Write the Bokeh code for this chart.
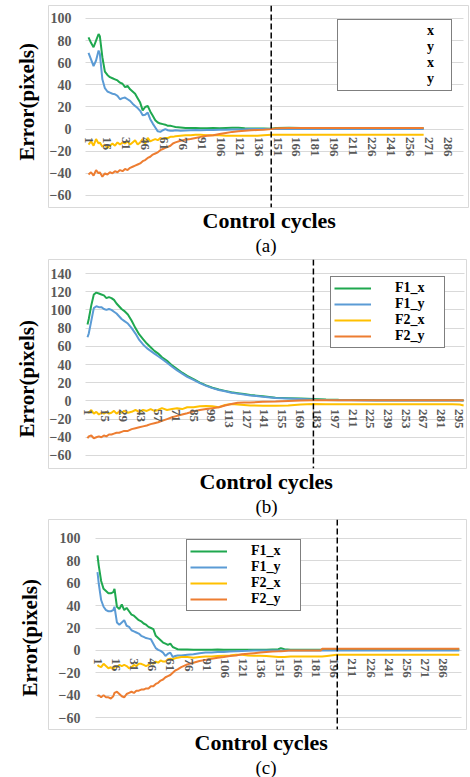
from bokeh.plotting import figure
from bokeh.models import Range1d, FixedTicker, Span, Title, Legend, LegendItem
from bokeh.layouts import column
from bokeh.embed import file_html
from bokeh.resources import INLINE

# ---------------- data: panel (a) ----------------
A_CYC = [1, 3, 5, 7, 9, 10, 12, 14, 16, 18, 20, 22, 24, 26, 28, 30, 32, 34, 36, 38,
         40, 42, 44, 46, 48, 50, 52, 54, 56, 58, 60, 62, 64, 66, 68, 70, 74, 78, 82, 86,
         90, 95, 100, 105, 110, 115, 120, 125, 130, 135, 140, 146, 150, 160, 170, 180,
         190, 200, 210, 220, 230, 240, 250, 260, 267]
A_F1X = [83, 78, 74, 80, 86, 84, 65, 52, 49, 47,
         46, 45, 44, 42, 41, 38, 39, 36, 34, 32,
         28, 24, 17, 20, 21, 16, 12, 8, 6, 5,
         4.5, 4, 3, 3, 2.5, 2, 1.5, 1, 1, 1,
         0.8, 0.8, 1, 0.7, 1, 1.3, 1.2, 0.8, 0.5, 0.5,
         0.5, 0.3, 1, 1.2, 1, 0.8, 1, 1, 0.8, 1,
         0.6, 0.8, 1, 0.5, 0.8]
A_F1Y = [69, 63, 57, 62, 71, 68, 45, 37, 34, 33,
         32, 31.5, 30, 27, 28, 28.5, 27, 25.5, 23, 21,
         19, 16.5, 12.5, 13, 15, 9, 5, 1.5, -2, -2.5,
         -1, 0, -1, -1.5, -1.5, -1, -1.5, -1.2, -1, -0.8,
         -1, -0.8, -0.8, -0.6, -0.5, -0.4, -0.3, -0.2, 0, 0,
         0, 0, 0.2, 0, 0.2, 0, 0, 0.2, 0, 0,
         0, 0.2, 0, 0, 0]
A_F2X = [-14, -11, -15, -9, -13, -12, -16, -14, -17, -15,
         -13, -15, -12, -14, -12, -13, -11, -14, -12, -10,
         -14, -12, -9, -13, -8, -11, -10, -9, -10, -8,
         -9, -8, -8, -7, -7, -6.5, -6, -5.5, -5.5, -5,
         -5, -5.5, -5.5, -5.5, -6, -6, -6, -6, -6, -6,
         -5.5, -5, -5, -5, -5, -5, -5, -5, -5, -5,
         -5, -5, -5, -5, -5]
A_F2Y = [-41, -39, -42, -37, -40, -39, -43, -40, -41, -39,
         -40, -38, -39, -37, -38, -36, -37, -35, -34, -33,
         -32, -31, -29, -28, -26, -25, -23, -22, -21, -19,
         -18, -17, -16, -15, -13, -12, -10.5, -9.5, -9, -8,
         -7, -6, -5.5, -4.5, -3.5, -2.5, -2, -1.5, -1, -0.8,
         -0.5, 0, 0.8, 1, 1, 1, 1, 1, 1, 1,
         1, 1, 1, 1, 1]
A_YTICKS = [-60, -40, -20, 0, 20, 40, 60, 80, 100]
A_XTICKS = [1, 16, 31, 46, 61, 76, 91, 106, 121, 136, 151, 166, 181, 196, 211,
            226, 241, 256, 271, 286]
A_DASH = 146
A_LEGEND = ["x", "y", "x", "y"]

# ---------------- data: panel (b) ----------------
B_CYC = [1, 2, 4, 6, 8, 10, 12, 14, 16, 18, 20, 22, 24, 26, 28, 30, 33, 36, 39, 42,
         45, 48, 51, 54, 57, 60, 64, 68, 72, 76, 80, 85, 90, 95, 100, 105, 110, 115,
         120, 125, 130, 140, 150, 160, 170, 180, 190, 200, 210, 220, 230, 240, 250,
         260, 270, 280, 290, 296, 299]
B_F1X = [84, 90, 105, 117, 119, 118, 117, 116, 113, 114,
         113, 111, 107, 104, 101, 99, 95, 88, 80, 73,
         68, 63, 59, 55, 52, 48, 44, 39, 35, 31,
         27.5, 24, 20, 17, 14.5, 12.5, 11, 9.5, 8.5, 7.5,
         6.5, 5, 3.5, 3, 2.5, 2, 1.5, 1.2, 1, 1,
         0.8, 0.8, 0.8, 0.8, 0.8, 0.8, 0.8, 0.8, 0.5]
B_F1Y = [70, 74, 88, 102, 104, 103, 103, 101, 100, 101,
         100, 98, 96, 93, 90, 88, 85, 80, 74, 67,
         62, 58, 55, 52, 49, 46, 42, 37.5, 33.5, 30,
         26.5, 23, 19.5, 16.5, 14, 12, 10.5, 9, 8, 7,
         6, 4.5, 3.2, 2.7, 2.2, 1.5, 1, 0.8, 0.6, 0.5,
         0.5, 0.5, 0.5, 0.5, 0.5, 0.5, 0.5, 0.5, 0.3]
B_F2X = [-12, -13, -10, -14, -12, -15, -13, -14, -12, -14,
         -13, -11, -14, -12, -13, -11, -13, -12, -10, -12,
         -10, -11, -9, -11, -10, -8, -10, -9, -8, -9,
         -7, -7, -6, -5.5, -6, -7, -4.5, -3.5, -4, -4.5,
         -5, -5.2, -5.2, -5, -4, -3.5, -3.8, -3.8, -3.8, -3.8,
         -3.8, -3.8, -3.8, -3.8, -3.8, -3.8, -3.8, -4, -5]
B_F2Y = [-41, -39, -38, -41, -40, -39, -40, -38, -39, -37,
         -37, -36, -35, -35, -34, -33, -33, -31, -30, -29,
         -28, -27, -25.5, -24.5, -23.5, -22, -20, -18, -16.5, -15,
         -13.5, -11.5, -10, -9, -8, -7, -5, -3.5, -2, -1.8,
         -1.7, -1, -0.7, 0, 0.5, 0.7, 0.7, 0.7, 0.7, 0.7,
         0.7, 0.7, 0.7, 0.7, 0.7, 0.7, 0.7, 0.7, 0.7]
B_YTICKS = [-60, -40, -20, 0, 20, 40, 60, 80, 100, 120, 140]
B_XTICKS = [1, 15, 29, 43, 57, 71, 85, 99, 113, 127, 141, 155, 169, 183, 197, 211,
            225, 239, 253, 267, 281, 295]
B_DASH = 180
B_LEGEND = ["F1_x", "F1_y", "F2_x", "F2_y"]

# ---------------- data: panel (c) ----------------
C_CYC = [1, 2, 4, 6, 8, 10, 12, 14, 15, 17, 19, 21, 23, 25, 27, 29, 31, 33, 35, 37,
         39, 41, 43, 45, 47, 49, 51, 53, 55, 57, 59, 61, 63, 65, 67, 70, 75, 80, 85, 90,
         95, 100, 105, 110, 115, 120, 125, 130, 135, 140, 145, 150, 152, 155, 160, 170,
         180, 185, 186, 190, 198, 200, 210, 220, 230, 240, 250, 260, 270, 280, 290, 299]
C_F1X = [85, 76, 62, 55, 53, 51, 51, 52, 55, 39,
         37, 41, 36, 38, 35, 32, 31, 29, 27, 26,
         24, 23, 21, 20, 19, 13, 11, 9, 7, 6,
         5, 6, 3, 2, 1, 0.8, 0.8, 0.5, 0.5, 0.5,
         0.5, 0.8, 0.5, 0.5, 0.5, 0.5, 0.5, 0.5, 0.5, 0.5,
         0.8, 1, 2, 1, 0.5, 0.5, 0.5, 0.5, 0.5, 0.5,
         0.5, 0.5, 0.5, 0.5, 0.5, 0.8, 0.5, 0.8, 0.5, 0.8, 0.5, 0.8]
C_F1Y = [70, 60, 45, 39, 36, 35, 35, 36, 39, 25,
         23, 25, 27, 22, 21, 18, 17, 16, 15, 13,
         12, 11, 10.5, 10, 6, 2, 0.5, -0.5, -2, -5,
         -3, -2, -6, -5, -4.5, -4.5, -4, -3.5, -2.5, -2,
         -1.8, -1.5, -1.4, -1, -0.8, -0.5, -0.3, 0, 0, 0,
         0, 0, 0, 0, 0, 0, 0, 0, 0, 0,
         0, 0, 0, 0, 0, 0, 0, 0, 0, 0, 0, 0]
C_F2X = [-13, -14, -15, -12, -14, -16, -15, -17, -14, -15,
         -13, -14, -13, -14, -16, -15, -13, -14, -12, -12,
         -13, -14, -13, -11, -12, -10, -11, -9, -10, -10,
         -8, -7.5, -8, -7, -6.5, -6, -6, -6.5, -6, -5.5,
         -5.5, -5, -4.7, -4.5, -4, -4, -4.5, -4.7, -4.7, -5,
         -5.5, -6, -6, -6, -5.5, -5.5, -5.5, -5.5, -5.5, -5,
         -4, -4, -4, -4, -4, -4, -4, -4, -4, -4, -4, -4]
C_F2Y = [-41, -40, -42, -40, -42, -42, -43, -41, -38, -37,
         -39, -41, -42, -39, -38, -37, -38, -36, -36, -35,
         -35, -34, -34, -32, -32, -30, -29, -27, -26, -24,
         -23, -22, -20, -18, -17, -15, -12.5, -11, -9.5, -8.5,
         -7.5, -6.5, -6, -5, -4.5, -3.5, -3, -2.5, -2, -1.5,
         -1, -0.8, -0.7, -0.5, 0, 0, 0, 0, 1.4, 1.4,
         1.4, 1.4, 1.4, 1.4, 1.4, 1.4, 1.4, 1.4, 1.4, 1.4, 1.4, 1.4]
C_YTICKS = [-60, -40, -20, 0, 20, 40, 60, 80, 100]
C_XTICKS = [1, 16, 31, 46, 61, 76, 91, 106, 121, 136, 151, 166, 181, 196, 211,
            226, 241, 256, 271, 286]
C_DASH = 198.5
C_LEGEND = ["F1_x", "F1_y", "F2_x", "F2_y"]

COLORS = ["#1fa84f", "#5b9bd5", "#ffc000", "#ed7d31"]
SERIF = "Liberation Serif"
GRID = "#d9d9d9"
TICK_GRAY = "#595959"
LEFT = 48  # same left border for all three plots, so the column does not realign frames


def panel(cyc, series, yticks, xticks, dash, legend_labels, caption, cfg):
    p = figure(frame_width=cfg["fw"], frame_height=cfg["fh"],
               min_border_left=LEFT, min_border_right=cfg["mr"],
               min_border_top=cfg["mt"], min_border_bottom=cfg["mb"],
               x_range=Range1d(*cfg["xr"]), y_range=Range1d(*cfg["yr"]),
               toolbar_location=None, output_backend="svg")
    p.outline_line_color = GRID
    p.outline_line_width = 1
    p.background_fill_color = "white"
    p.border_fill_color = "white"

    ya = p.yaxis[0]
    ya.fixed_location = cfg["yaxis_at"]
    ya.ticker = FixedTicker(ticks=yticks)
    ya.axis_line_color = None
    ya.major_tick_line_color = None
    ya.minor_tick_line_color = None
    ya.major_label_standoff = 0
    ya.major_label_text_font = SERIF
    ya.major_label_text_font_style = "bold"
    ya.major_label_text_font_size = "14px"
    ya.major_label_text_color = TICK_GRAY

    xa = p.xaxis[0]
    xa.fixed_location = 0
    xa.ticker = FixedTicker(ticks=xticks)
    xa.major_label_orientation = "vertical"
    xa.axis_line_color = None
    xa.major_tick_line_color = None
    xa.minor_tick_line_color = None
    xa.major_label_standoff = 2
    xa.major_label_text_font = SERIF
    xa.major_label_text_font_style = "bold"
    xa.major_label_text_font_size = "13px"
    xa.major_label_text_color = TICK_GRAY

    p.xgrid.visible = False
    yg = p.ygrid[0]
    yg.ticker = FixedTicker(ticks=yticks)
    yg.grid_line_color = GRID
    yg.grid_line_width = 1
    if "cross_bounds" in yg.properties():
        yg.cross_bounds = cfg["gb"]

    rends = []
    for ys, col in zip(series, COLORS):
        rends.append(p.line(cyc, ys, line_color=col, line_width=2))

    p.add_layout(Span(location=dash, dimension="height", line_color="black",
                      line_width=1.5, line_dash="6 3"))

    if cfg.get("blank_legend"):
        leg_rends = [p.line(x=[], y=[], line_alpha=0) for _ in legend_labels]
    else:
        leg_rends = rends
    items = [LegendItem(label=l, renderers=[r]) for l, r in zip(legend_labels, leg_rends)]
    leg = Legend(items=items, location=cfg["leg_loc"], orientation="vertical",
                 border_line_color="black", border_line_width=1,
                 background_fill_color="white", background_fill_alpha=1,
                 label_text_font=SERIF, label_text_font_style="bold",
                 label_text_font_size="14px", label_text_color="black",
                 glyph_width=37, glyph_height=14, label_height=14,
                 label_width=cfg["leg_lw"], label_standoff=cfg["leg_so"],
                 padding=3, spacing=0, margin=0)
    p.add_layout(leg, "center")

    yo, ys_ = cfg["ylab"]
    p.add_layout(Title(text="Error(pixels)", align="left", offset=yo, standoff=ys_,
                       vertical_align="bottom", text_font=SERIF,
                       text_font_size="21px", text_font_style="bold",
                       text_color="black"), "left")
    p.add_layout(Title(text="Control cycles", align="left", offset=cfg["cc"], standoff=0,
                       vertical_align="top", text_font=SERIF,
                       text_font_size="22px", text_font_style="bold",
                       text_color="black"), "below")
    p.add_layout(Title(text=caption, align="left", offset=cfg["sub"], standoff=0,
                       vertical_align="top", text_font=SERIF,
                       text_font_size="19px", text_font_style="normal",
                       text_color="black"), "below")
    return p


pa = panel(A_CYC, [A_F1X, A_F1Y, A_F2X, A_F2Y], A_YTICKS, A_XTICKS, A_DASH, A_LEGEND, "(a)",
           dict(fw=420, fh=202, mr=1, mt=5, mb=51,
                xr=(-30.75, 302.58), yr=(-70.85, 111.75), yaxis_at=-7.73,
                gb=(-1.38, 298.6),
                leg_loc=(289, 116), leg_lw=21, leg_so=49, blank_legend=True,
                ylab=(47, 20), cc=154, sub=207))

pb = panel(B_CYC, [B_F1X, B_F1Y, B_F2X, B_F2Y], B_YTICKS, B_XTICKS, B_DASH, B_LEGEND, "(b)",
           dict(fw=418, fh=209, mr=3, mt=1, mb=49,
                xr=(-29.9, 301.3), yr=(-74.3, 155.4), yaxis_at=-6.93,
                gb=(-0.58, 299.5),
                leg_loc=(282, 120), leg_lw=46, leg_so=24,
                ylab=(31, 20), cc=151, sub=207))

pc = panel(C_CYC, [C_F1X, C_F1Y, C_F2X, C_F2Y], C_YTICKS, C_XTICKS, C_DASH, C_LEGEND, "(c)",
           dict(fw=418, fh=210, mr=3, mt=1, mb=48,
                xr=(-39.36, 304.95), yr=(-70.72, 116.98), yaxis_at=-8.06,
                gb=(-0.65, 300.8),
                leg_loc=(138, 118), leg_lw=46, leg_so=24,
                ylab=(33, 14), cc=146, sub=207))

layout = column(pa, pb, pc, spacing=0)
open("out.html", "w").write(file_html(layout, INLINE))
